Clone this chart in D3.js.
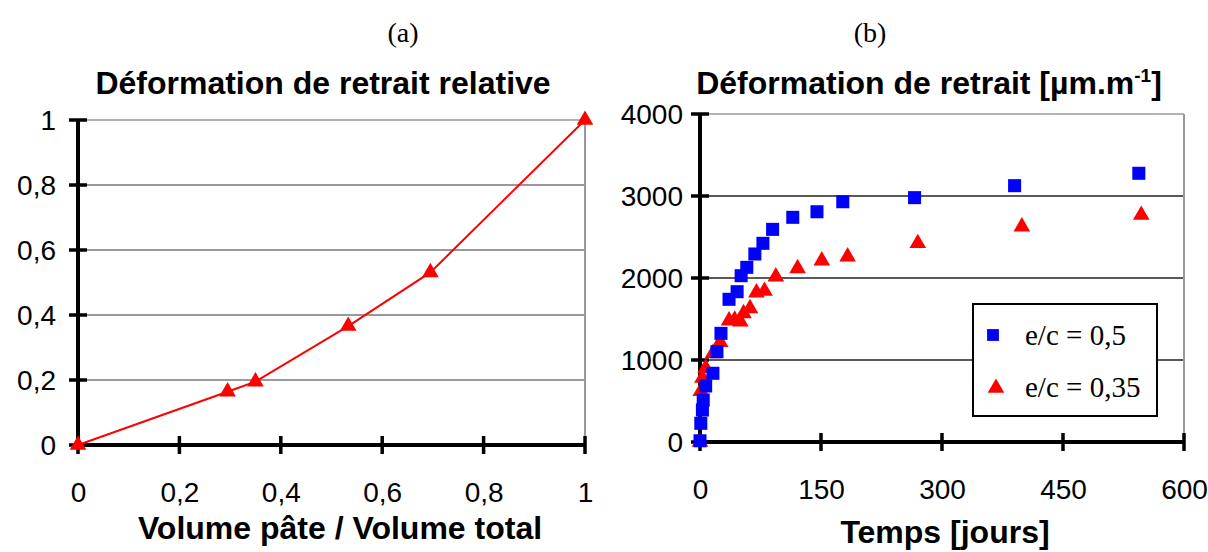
<!DOCTYPE html>
<html><head><meta charset="utf-8">
<script src="https://cdn.jsdelivr.net/npm/d3@7"></script>
<style>body{margin:0;background:#fff}svg{display:block}</style>
</head><body>
<svg id="c" width="1208" height="552"></svg>
<script>
// Panel (a)
const volFrac   = [0, 0.295, 0.35, 0.533, 0.695, 1];
const relShrink = [0, 0.164, 0.195, 0.366, 0.531, 1];
const ticksA_x = [0, 0.2, 0.4, 0.6, 0.8, 1];
const ticksA_y = [0, 0.2, 0.4, 0.6, 0.8, 1];
// Panel (b)
const daysS = [0, 1, 3, 4, 7, 16, 21, 26, 36, 46, 51, 58, 68, 78, 90, 115, 145, 177, 266, 390, 544];
const shrS  = [15, 228, 390, 512, 683, 838, 1101, 1325, 1740, 1833, 2028, 2130, 2293, 2423, 2593, 2740, 2808, 2930, 2980, 3126, 3277];
const daysT = [0, 1, 3, 7, 16, 25, 36, 43, 50, 54, 62, 70, 80, 94, 121, 151, 183, 270, 399, 547];
const shrT  = [0, 620, 780, 900, 1080, 1216, 1480, 1488, 1467, 1569, 1630, 1821, 1841, 2016, 2118, 2211, 2260, 2423, 2626, 2768];
const ticksB_x = [0, 150, 300, 450, 600];
const ticksB_y = [0, 1000, 2000, 3000, 4000];
const legendLabels = ["e/c = 0,5", "e/c = 0,35"];

const svg = d3.select("#c");
const sans = "'Liberation Sans', Arial, sans-serif";
const serif = "'Liberation Serif', 'Times New Roman', serif";
const fmt = d => String(d).replace(".", ",");
const TICKFS = 28, TITLEFS = 32;

function panel(o) {
  const g = svg.append("g");
  const x = d3.scaleLinear().domain(o.xd).range([o.x0, o.x1]);
  const y = d3.scaleLinear().domain(o.yd).range([o.y0, o.y1]);
  g.selectAll(".grid").data(o.ty.filter(v => v !== o.yd[0])).join("line")
    .attr("x1", o.x0).attr("x2", o.x1).attr("y1", d => y(d)).attr("y2", d => y(d))
    .attr("stroke", d => d === o.yd[1] ? "#999" : o.gridColor).attr("stroke-width", 1.5);
  g.append("line").attr("x1", o.x1).attr("x2", o.x1).attr("y1", o.y1).attr("y2", o.y0)
    .attr("stroke", "#999").attr("stroke-width", 2);
  const ax = g.append("g").attr("transform", `translate(0,${o.y0})`)
    .call(d3.axisBottom(x).tickValues(o.tx).tickSize(0).tickFormat(o.fx));
  ax.select(".domain").remove();
  ax.selectAll("text").attr("font-family", sans).attr("font-size", TICKFS).attr("fill", "#000").attr("dy", 0).attr("y", o.xLabY);
  const ay = g.append("g").attr("transform", `translate(${o.x0},0)`)
    .call(d3.axisLeft(y).tickValues(o.ty).tickSize(0).tickFormat(o.fy));
  ay.select(".domain").remove();
  ay.selectAll("text").attr("font-family", sans).attr("font-size", TICKFS).attr("fill", "#000").attr("x", o.yLabX).attr("dy", "0.35em");
  g.selectAll(".tx").data(o.tx).join("line")
    .attr("x1", d => x(d)).attr("x2", d => x(d)).attr("y1", o.y0 - 9).attr("y2", o.y0 + 9)
    .attr("stroke", "#000").attr("stroke-width", 3.5);
  g.selectAll(".ty").data(o.ty).join("line")
    .attr("x1", o.x0 - 9).attr("x2", o.x0 + 9).attr("y1", d => y(d)).attr("y2", d => y(d))
    .attr("stroke", "#000").attr("stroke-width", 3.5);
  g.append("line").attr("x1", o.x0).attr("x2", o.x1).attr("y1", o.y0).attr("y2", o.y0).attr("stroke", "#000").attr("stroke-width", 4);
  g.append("line").attr("x1", o.x0).attr("x2", o.x0).attr("y1", o.y0 + 2).attr("y2", o.y1).attr("stroke", "#000").attr("stroke-width", 4);
  return {g, x, y};
}

// ---------- Panel (a)
const A = panel({xd: [0, 1], yd: [0, 1], x0: 78, x1: 585, y0: 445, y1: 120,
  tx: ticksA_x, ty: ticksA_y, fx: fmt, fy: fmt, xLabY: 57, yLabX: -22, gridColor: "#777"});
const ptsA = volFrac.map((v, i) => [v, relShrink[i]]);
A.g.append("path").datum(ptsA)
  .attr("d", d3.line().x(d => A.x(d[0])).y(d => A.y(d[1])))
  .attr("fill", "none").attr("stroke", "#ff0000").attr("stroke-width", 2);
A.g.selectAll(".m").data(ptsA).join("path")
  .attr("transform", d => `translate(${A.x(d[0])},${A.y(d[1])})`)
  .attr("d", d3.symbol(d3.symbolTriangle, 120)).attr("fill", "#ff0000");

svg.append("text").attr("x", 403).attr("y", 42).attr("text-anchor", "middle")
  .attr("font-family", serif).attr("font-size", 28).text("(a)");
svg.append("text").attr("x", 323).attr("y", 94).attr("text-anchor", "middle")
  .attr("font-family", sans).attr("font-weight", "bold").attr("font-size", TITLEFS).text("Déformation de retrait relative");
svg.append("text").attr("x", 340).attr("y", 539).attr("text-anchor", "middle")
  .attr("font-family", sans).attr("font-weight", "bold").attr("font-size", TITLEFS).text("Volume pâte / Volume total");

// ---------- Panel (b)
const B = panel({xd: [0, 600], yd: [0, 4000], x0: 700, x1: 1184, y0: 442, y1: 114,
  tx: ticksB_x, ty: ticksB_y, fx: d => d, fy: d => d, xLabY: 57, yLabX: -17, gridColor: "#222"});
const ptsS = daysS.map((v, i) => [v, shrS[i]]);
const ptsT = daysT.map((v, i) => [v, shrT[i]]);
B.g.selectAll(".t").data(ptsT).join("path")
  .attr("transform", d => `translate(${B.x(d[0])},${B.y(d[1])})`)
  .attr("d", d3.symbol(d3.symbolTriangle, 120)).attr("fill", "#ff0000");
B.g.selectAll(".s").data(ptsS).join("path")
  .attr("transform", d => `translate(${B.x(d[0])},${B.y(d[1])})`)
  .attr("d", d3.symbol(d3.symbolSquare, 170)).attr("fill", "#0000ff");

// legend
const lg = svg.append("g");
lg.append("rect").attr("x", 973).attr("y", 304).attr("width", 184).attr("height", 112)
  .attr("fill", "#fff").attr("stroke", "#000").attr("stroke-width", 2);
lg.append("path").attr("transform", "translate(993,335)").attr("d", d3.symbol(d3.symbolSquare, 140)).attr("fill", "#0000ff");
lg.append("path").attr("transform", "translate(996,388)").attr("d", d3.symbol(d3.symbolTriangle, 120)).attr("fill", "#ff0000");
lg.selectAll("text").data(legendLabels).join("text")
  .attr("x", 1025).attr("y", (d, i) => 345 + i * 52)
  .attr("font-family", serif).attr("font-size", 29).text(d => d);

svg.append("text").attr("x", 870).attr("y", 42).attr("text-anchor", "middle")
  .attr("font-family", serif).attr("font-size", 28).text("(b)");
const tb = svg.append("text").attr("x", 929).attr("y", 94).attr("text-anchor", "middle")
  .attr("font-family", sans).attr("font-weight", "bold").attr("font-size", TITLEFS);
tb.append("tspan").text("Déformation de retrait [µm.m");
tb.append("tspan").attr("font-size", 19).attr("dy", -12).text("-1");
tb.append("tspan").attr("dy", 12).text("]");
svg.append("text").attr("x", 945).attr("y", 543).attr("text-anchor", "middle")
  .attr("font-family", sans).attr("font-weight", "bold").attr("font-size", TITLEFS).text("Temps [jours]");
</script>
</body></html>
